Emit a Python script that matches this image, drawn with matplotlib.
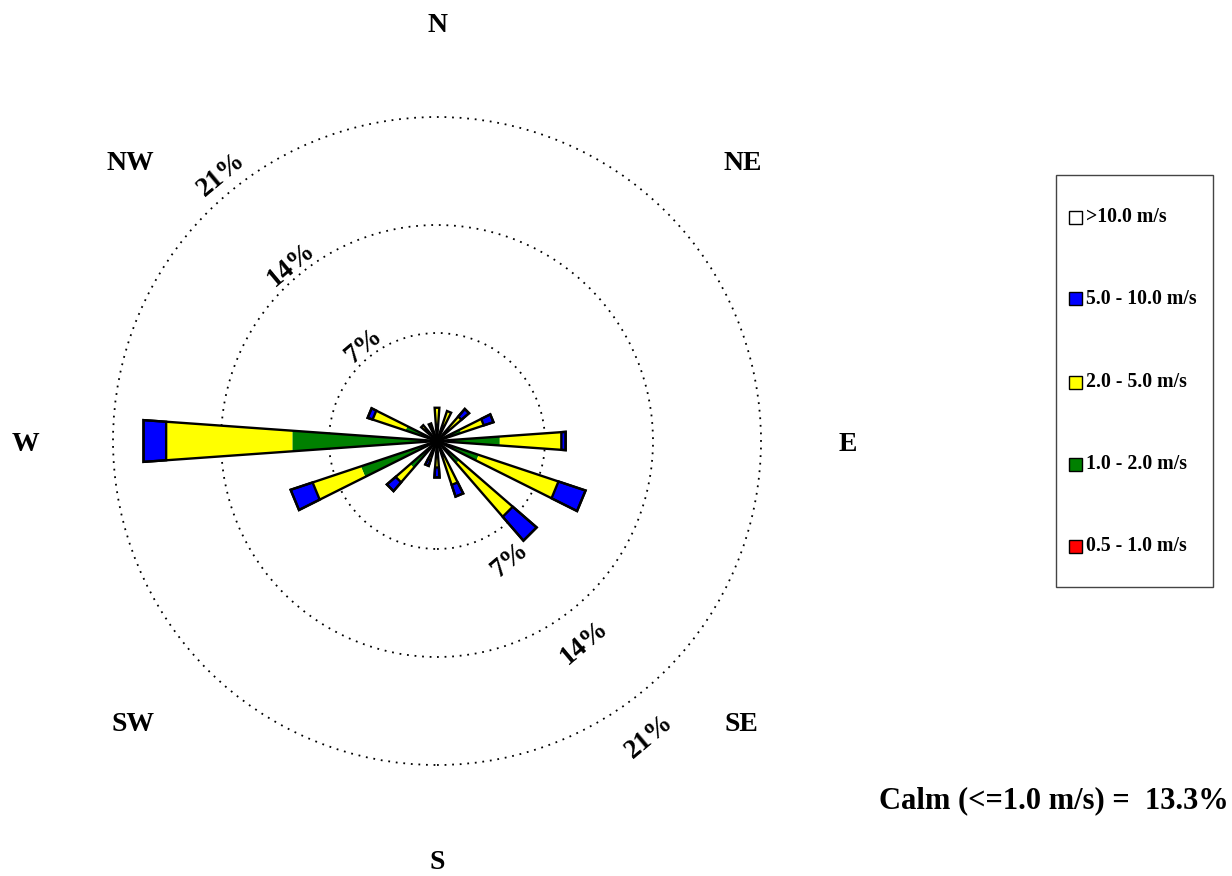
import numpy as np
import matplotlib
matplotlib.use("Agg")
import matplotlib.pyplot as plt
from matplotlib.patches import Polygon, Rectangle, Circle

plt.rcParams['font.family'] = ['Liberation Serif', 'DejaVu Serif']
plt.rcParams['font.weight'] = 'bold'

# 16 compass sectors, frequency (%) per speed class
directions = ['N', 'NNE', 'NE', 'ENE', 'E', 'ESE', 'SE', 'SSE',
              'S', 'SSW', 'SW', 'WSW', 'W', 'WNW', 'NW', 'NNW']
freq_05_10 = [0.0] * 16
freq_10_20 = [0.70, 0.50, 0.90, 1.65, 4.08, 2.85, 1.90, 1.00,
              0.80, 0.80, 2.30, 5.20, 9.40, 2.15, 0.60, 0.70]
freq_20_50 = [1.46, 1.55, 1.20, 1.55, 4.00, 5.45, 4.60, 2.00,
              0.92, 0.50, 1.25, 3.30, 8.20, 2.25, 0.76, 0.50]
freq_50_100 = [0.00, 0.00, 0.65, 0.66, 0.28, 1.85, 2.05, 0.80,
               0.65, 0.40, 0.75, 1.50, 1.47, 0.34, 0.00, 0.00]
freq_gt_100 = [0.0] * 16

class_labels = ['0.5 - 1.0 m/s', '1.0 - 2.0 m/s', '2.0 - 5.0 m/s',
                '5.0 - 10.0 m/s', '>10.0 m/s']
class_colors = ['#ff0000', '#008000', '#ffff00', '#0000ff', '#ffffff']

ring_levels = [7, 14, 21]
calm_pct = 13.3
calm_limit = 1.0

compass_labels = ['N', 'NE', 'E', 'SE', 'S', 'SW', 'W', 'NW']

# layout (pixels / percent units)
W, H = 1232, 876
cx, cy = 437, 441
px_per_pct = 108 / 7.0
half_width = np.radians(4.07)
label_xy = [(0.0, 26.95), (19.8, 18.0), (26.6, -0.25), (19.7, -18.35),
            (0.0, -27.3), (-19.7, -18.35), (-26.7, -0.25), (-19.9, 18.0)]
ring_lab_upper = [(322.5, 0.8), (320.5, 0.8), (321.0, 1.2)]
ring_lab_lower = [(148.5, 2.05), (143.8, 2.2), (144.3, 2.6)]

fig = plt.figure(figsize=(W / 100, H / 100), dpi=100)
ax = fig.add_axes([0, 0, 1, 1])
ax.set_xlim(-cx / px_per_pct, (W - cx) / px_per_pct)
ax.set_ylim(-(H - cy) / px_per_pct, cy / px_per_pct)
ax.axis('off')


def seg(r0, r1, ang):
    a = np.radians(ang)
    pts = []
    for r, d in [(r0, -half_width), (r1, -half_width), (r1, half_width), (r0, half_width)]:
        pts.append((r * np.sin(a + d), r * np.cos(a + d)))
    return pts


classes = [freq_05_10, freq_10_20, freq_20_50, freq_50_100, freq_gt_100]
angles = np.arange(16) * 22.5
for i, ang in enumerate(angles):
    r0 = 0.0
    for k, vals in enumerate(classes):
        v = vals[i]
        if v <= 0:
            continue
        edge = 'black' if k >= 3 else 'none'
        ax.add_patch(Polygon(seg(r0, r0 + v, ang), closed=True,
                             facecolor=class_colors[k], edgecolor=edge,
                             linewidth=1.7, zorder=3))
        r0 += v
    # outline of the whole petal
    ax.add_patch(Polygon(seg(0, r0, ang), closed=True, fill=False,
                         edgecolor='black', linewidth=1.7, zorder=4))

# dotted frequency rings and their labels
for j, lev in enumerate(ring_levels):
    ax.add_patch(Circle((0, 0), lev, fill=False, edgecolor='black',
                        linestyle=(0, (1.0, 3.2)), linewidth=1.3, zorder=1))
    for ang, off in [ring_lab_upper[j], ring_lab_lower[j]]:
        a = np.radians(ang)
        r = lev + off
        ax.text(r * np.sin(a), r * np.cos(a), f'{lev}%', rotation=40,
                ha='center', va='center', fontsize=19.5, zorder=5)

# compass point labels
for name, (x, y) in zip(compass_labels, label_xy):
    ax.text(x, y, name, ha='center', va='center', fontsize=20)

# legend box
fx = lambda x: x / W
fy = lambda y: 1 - y / H
fig.add_artist(Rectangle((fx(1056), fy(587)), fx(1213) - fx(1056), fy(175) - fy(587),
                         transform=fig.transFigure, fill=False,
                         edgecolor='#444444', linewidth=1.0))
entry_y = [546, 464, 382, 299, 217]
for k in range(len(class_labels)):
    y = entry_y[k]
    fig.add_artist(Rectangle((fx(1069), fy(y + 6.5)), 13 / W, 13 / H,
                             transform=fig.transFigure,
                             facecolor=class_colors[k], edgecolor='black',
                             linewidth=1.0))
    fig.text(fx(1086), fy(y), class_labels[k], ha='left', va='center',
             fontsize=14.2)

fig.text(fx(1229), fy(801), f'Calm (<={calm_limit:.1f} m/s) =  {calm_pct}%',
         ha='right', va='center', fontsize=22)

fig.savefig('out.png', dpi=100)
